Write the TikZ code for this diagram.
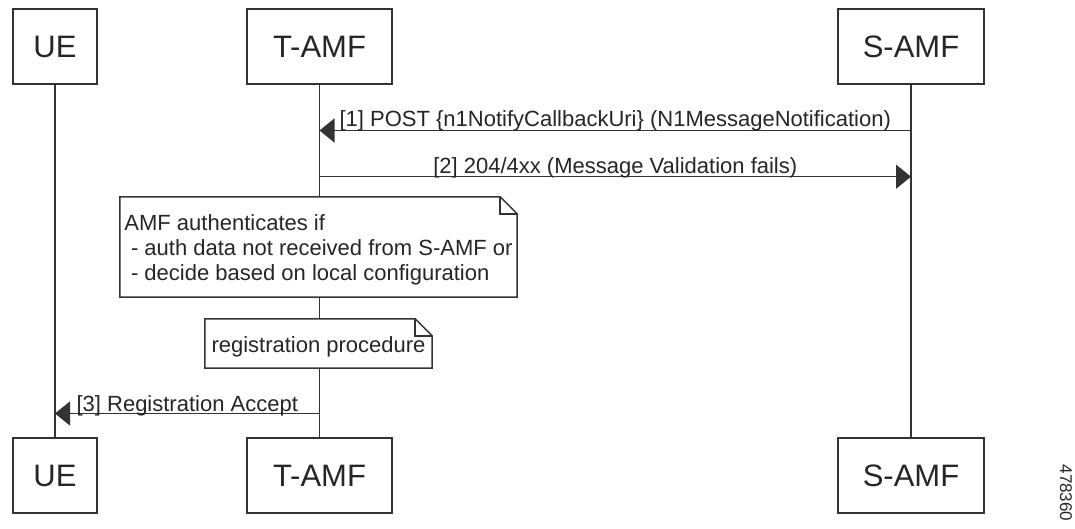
\documentclass[tikz,border=0pt]{standalone}
\usepackage{fontspec}
\setmainfont{Liberation Sans}
\usetikzlibrary{arrows.meta}
\begin{document}
\begin{tikzpicture}[x=1pt,y=-1pt,
  actor/.style={draw=black!80, line width=1.5pt, fill=white, minimum width=#1, minimum height=75pt, inner sep=0pt, font=\fontsize{31}{36}\selectfont, text=black!85},
  life/.style={draw=black!80, line width=1.5pt},
  msg/.style={draw=black!80, line width=1.5pt, -{Triangle[length=15pt,width=24pt]}},
  lbl/.style={font=\fontsize{22}{25}\selectfont, text=black!85, anchor=base, inner sep=0pt},
  notebox/.style={fill=white, inner sep=0pt, font=\fontsize{22}{25}\selectfont, text=black!85, align=left},
  noteline/.style={draw=black!80, line width=1.5pt}
]
\useasboundingbox (0,0) rectangle (1075,529);
\fill[white] (0,0) rectangle (1075,529);

% actors
\node[actor=84pt]  (ueT)   at (55,46.5)   {UE};
\node[actor=145pt] (tamfT) at (319.5,46.5) {T-AMF};
\node[actor=146pt] (samfT) at (911,46.5)  {S-AMF};
\node[actor=84pt]  (ueB)   at (55,475.5)  {UE};
\node[actor=145pt] (tamfB) at (319.5,475.5) {T-AMF};
\node[actor=146pt] (samfB) at (911,475.5) {S-AMF};

% lifelines
\draw[life] (ueT.south) -- (ueB.north);
\draw[life] (tamfT.south) -- (tamfB.north);
\draw[life] (samfT.south) -- (samfB.north);

% messages
\coordinate (y1) at (0,130.5);
\coordinate (y2) at (0,176.7);
\coordinate (y3) at (0,413.5);
\draw[msg] (samfT.south |- y1) -- (tamfT.south |- y1)
  node[lbl, midway, yshift=3.5pt] (l1) {[1] POST \{n1NotifyCallbackUri\} (N1MessageNotification)};
\draw[msg] (tamfT.south |- y2) -- (samfT.south |- y2)
  node[lbl, midway, yshift=3.5pt] (l2) {[2] 204/4xx (Message Validation fails)};
\draw[msg] (tamfT.south |- y3) -- (ueT.south |- y3)
  node[lbl, midway, yshift=2.5pt] (l3) {[3] Registration Accept};

% notes
\node[notebox, minimum width=397pt, minimum height=100pt] (n1) at (318.5,247)
  {\rule{0pt}{22pt}AMF authenticates if\\\hspace*{0.3em}- auth data not received from S-AMF or\\\hspace*{0.3em}- decide based on local configuration};
\draw[noteline] (n1.north west) -- ([xshift=-17pt]n1.north east) -- ([yshift=-17pt]n1.north east) -- (n1.south east) -- (n1.south west) -- cycle;
\draw[noteline] ([xshift=-17pt]n1.north east) |- ([yshift=-17pt]n1.north east);

\node[notebox, minimum width=227pt, minimum height=49pt] (n2) at (318.5,343.5)
  {\rule{0pt}{22pt}registration procedure};
\draw[noteline] (n2.north west) -- ([xshift=-17pt]n2.north east) -- ([yshift=-17pt]n2.north east) -- (n2.south east) -- (n2.south west) -- cycle;
\draw[noteline] ([xshift=-17pt]n2.north east) |- ([yshift=-17pt]n2.north east);

% figure number
\node[font=\fontsize{17}{20}\selectfont, rotate=-90, text=black!85, inner sep=0pt] (fig) at (1066,493) {478360};
\end{tikzpicture}
\end{document}
